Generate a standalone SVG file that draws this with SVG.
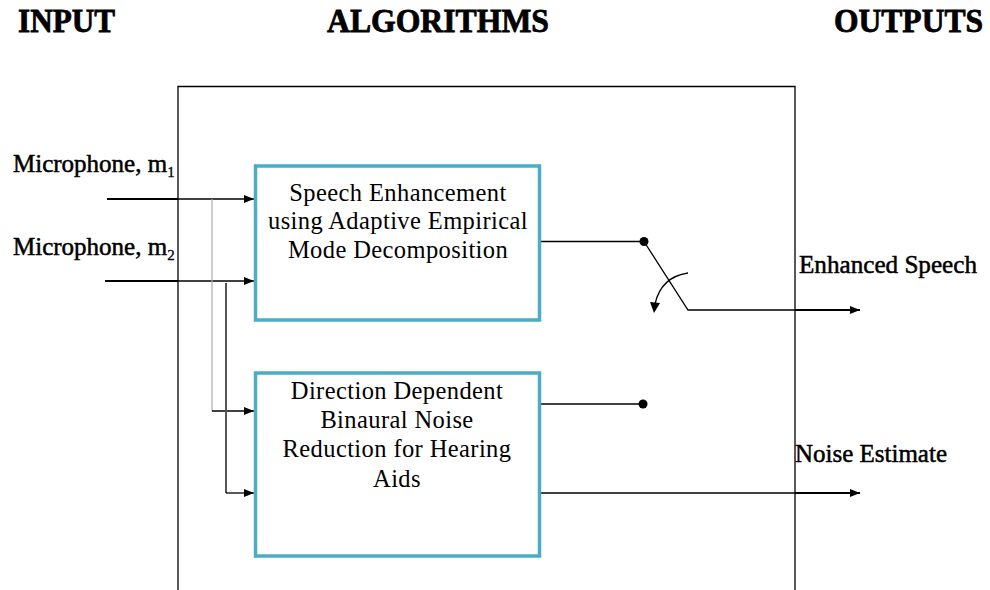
<svg xmlns="http://www.w3.org/2000/svg" width="990" height="590" viewBox="0 0 990 590">
<style>
.title{font-family:"Liberation Serif","Times New Roman",serif;font-weight:bold;font-size:33px;fill:#000;stroke:#000;stroke-width:0.8}
.lbl{font-family:"Liberation Serif","Times New Roman",serif;font-size:25px;fill:#000;stroke:#000;stroke-width:0.5}
.sub{font-family:"Liberation Serif","Times New Roman",serif;font-size:15px;fill:#000;stroke:#000;stroke-width:0.3}
.box{fill:#fff;stroke:#4bacc6;stroke-width:3.5}
.bt{font-family:"Liberation Serif","Times New Roman",serif;font-size:24.5px;fill:#000;text-anchor:middle;letter-spacing:0.4px}
.thin{stroke:#000;stroke-width:1.3;fill:none}
.thick{stroke:#000;stroke-width:2.2;fill:none}
</style>
<defs>
<marker id="ah" markerWidth="10" markerHeight="8" refX="10" refY="4" orient="auto" markerUnits="userSpaceOnUse">
<path d="M0,0 L10,4 L0,8 Z" fill="#000"/>
</marker>
</defs>
<rect width="990" height="590" fill="#fff"/>
<g id="titles">
<text class="title" x="18" y="32" textLength="97" lengthAdjust="spacingAndGlyphs">INPUT</text>
<text class="title" x="327" y="32" textLength="222" lengthAdjust="spacingAndGlyphs">ALGORITHMS</text>
<text class="title" x="834" y="32" textLength="149" lengthAdjust="spacingAndGlyphs">OUTPUTS</text>
</g>
<g id="frame">
<path d="M178,600 V86.5 H795 V600" class="thin" stroke-width="1.2"/>
</g>
<g id="labels">
<text class="lbl" x="13" y="172">Microphone, m<tspan class="sub" dy="5">1</tspan></text>
<text class="lbl" x="13" y="255">Microphone, m<tspan class="sub" dy="5">2</tspan></text>
<text class="lbl" x="799" y="273" textLength="178" lengthAdjust="spacingAndGlyphs">Enhanced Speech</text>
<text class="lbl" x="795" y="462" textLength="152" lengthAdjust="spacingAndGlyphs">Noise Estimate</text>
</g>
<g id="connectors">
<line x1="107" y1="199" x2="178" y2="199" class="thick"/>
<line x1="178" y1="199" x2="254" y2="199" class="thin" marker-end="url(#ah)"/>
<line x1="105" y1="281" x2="178" y2="281" class="thick"/>
<line x1="178" y1="281" x2="254" y2="281" class="thin" marker-end="url(#ah)"/>
<line x1="212" y1="199" x2="212" y2="411" stroke="#aaa" stroke-width="1.2"/>
<line x1="212" y1="411" x2="254" y2="411" class="thin" marker-end="url(#ah)"/>
<line x1="226" y1="283" x2="226" y2="493" stroke="#555" stroke-width="2"/>
<line x1="226" y1="493" x2="254" y2="493" class="thin" marker-end="url(#ah)"/>
<line x1="540" y1="241.5" x2="644" y2="241.5" class="thin"/>
<circle cx="644" cy="241.5" r="4.5" fill="#000"/>
<path d="M644,241.5 L688,310 H795" class="thin"/>
<line x1="795" y1="310" x2="860" y2="310" class="thick" marker-end="url(#ah)"/>
<path d="M688,273 Q661,277 655,304" class="thin"/>
<path d="M650,302 L660,303 L654,313 Z" fill="#000"/>
<line x1="540" y1="404" x2="643" y2="404" class="thin"/>
<circle cx="643" cy="404" r="4.5" fill="#000"/>
<line x1="540" y1="493" x2="795" y2="493" class="thin"/>
<line x1="795" y1="493" x2="860" y2="493" class="thick" marker-end="url(#ah)"/>
</g>
<g id="node-speech-enhancement">
<rect class="box" x="255.5" y="166" width="284" height="154"/>
<text class="bt" x="398" y="201">Speech Enhancement</text>
<text class="bt" x="398" y="229">using Adaptive Empirical</text>
<text class="bt" x="398" y="258">Mode Decomposition</text>
</g>
<g id="node-binaural-noise-reduction">
<rect class="box" x="255.5" y="373" width="284" height="183"/>
<text class="bt" x="397" y="399">Direction Dependent</text>
<text class="bt" x="397" y="428">Binaural Noise</text>
<text class="bt" x="397" y="457">Reduction for Hearing</text>
<text class="bt" x="397" y="487">Aids</text>
</g>
</svg>
